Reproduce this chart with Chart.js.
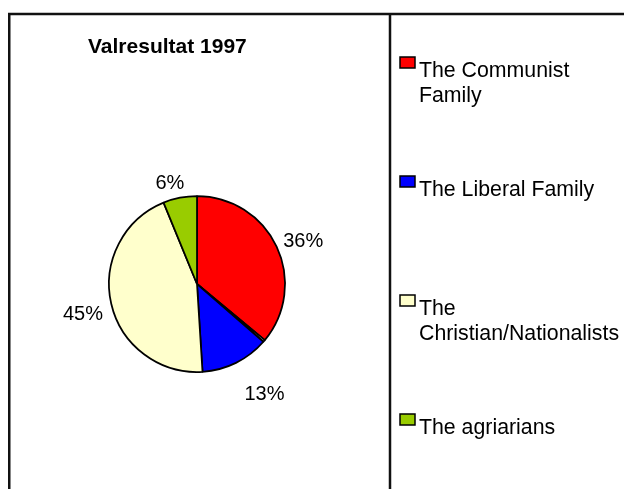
<!DOCTYPE html>
<html>
<head>
<meta charset="utf-8">
<script src="https://cdn.jsdelivr.net/npm/chart.js@4"></script>
<style>
  html, body { margin: 0; padding: 0; background: #fff; }
  #wrap { width: 624px; height: 489px; }
</style>
</head>
<body>
<div id="wrap"><canvas id="myChart" width="624" height="489"></canvas></div>
<script>
// data (the empty name is the thin unlabelled sliver)
const categories = ["The Communist Family", "", "The Liberal Family", "The Christian/Nationalists", "The agriarians"]
const shares = [36.0, 0.4, 12.6, 44.8, 6.2]
const pctLabels = ["36%", "", "13%", "45%", "6%"]
const colors = ["#ff0000", "#ffffff", "#0000ff", "#ffffcc", "#99cc00"]

// small per-label nudges so labels sit where Excel put them
const labelNudge = [[3, 6], [0, 0], [17, 8], [-3, 5], [-5, 11]]

const FONT = "'Liberation Sans', Arial, sans-serif"

// frame around the chart + divider before the legend
const framePlugin = {
  id: "frame",
  beforeDraw(chart) {
    const ctx = chart.ctx
    ctx.save()
    ctx.strokeStyle = "#111"
    ctx.lineWidth = 2.5
    ctx.beginPath()
    ctx.moveTo(8, 14)
    ctx.lineTo(624, 14)
    ctx.moveTo(9.25, 13)
    ctx.lineTo(9.25, 489)
    ctx.moveTo(390, 13)
    ctx.lineTo(390, 489)
    ctx.stroke()
    ctx.restore()
  },
}

// percentage labels outside the slices
const pctPlugin = {
  id: "pct",
  afterDatasetsDraw(chart) {
    const ctx = chart.ctx
    const arcs = chart.getDatasetMeta(0).data
    ctx.save()
    ctx.font = "20px " + FONT
    ctx.fillStyle = "#000"
    ctx.textAlign = "center"
    ctx.textBaseline = "middle"
    arcs.forEach(function (arc, i) {
      if (!pctLabels[i]) return
      const a = (arc.startAngle + arc.endAngle) / 2
      const d = arc.outerRadius + 26
      const x = arc.x + Math.cos(a) * d + labelNudge[i][0]
      const y = arc.y + Math.sin(a) * d + labelNudge[i][1]
      ctx.fillText(pctLabels[i], x, y)
    })
    ctx.restore()
  },
}

// legend in the right panel, text wrapped like the original
const sideLegend = {
  id: "sideLegend",
  afterDraw(chart) {
    const ctx = chart.ctx
    const names = chart.data.labels
    const fills = chart.data.datasets[0].backgroundColor
    const left = 400
    const textX = 419
    const maxW = 203
    const firstBase = 77
    const gap = 119
    const lineH = 25
    ctx.save()
    ctx.font = "21.3px " + FONT
    ctx.textBaseline = "alphabetic"
    ctx.textAlign = "left"
    let n = 0
    for (let i = 0; i < names.length; i++) {
      if (!names[i]) continue
      const base = firstBase + n * gap
      // colour box
      ctx.fillStyle = fills[i]
      ctx.fillRect(left, base - 20, 15, 11)
      ctx.strokeStyle = "#000"
      ctx.lineWidth = 1.5
      ctx.strokeRect(left, base - 20, 15, 11)
      // wrap words
      const words = names[i].split(" ")
      const lines = []
      let cur = ""
      words.forEach(function (w) {
        const test = cur ? cur + " " + w : w
        if (cur && ctx.measureText(test).width > maxW) {
          lines.push(cur)
          cur = w
        } else {
          cur = test
        }
      })
      lines.push(cur)
      ctx.fillStyle = "#000"
      lines.forEach(function (ln, k) {
        ctx.fillText(ln, textX, base + k * lineH)
      })
      n++
    }
    ctx.restore()
  },
}

const data = {
  labels: categories,
  datasets: [
    {
      data: shares,
      backgroundColor: colors,
      borderColor: "#000",
      borderWidth: 1.75,
      hoverOffset: 0,
    },
  ],
}

const config = {
  type: "pie",
  data: data,
  options: {
    responsive: false,
    animation: false,
    radius: 88,
    layout: { padding: { left: 88, right: 318, top: 10, bottom: 10 } },
    plugins: {
      legend: { display: false },
      tooltip: { enabled: false },
      title: {
        display: true,
        text: "Valresultat 1997",
        align: "start",
        color: "#000",
        font: { family: FONT, size: 21, weight: "bold", lineHeight: 1.2 },
        padding: { top: 24.4, bottom: 29.4 },
      },
    },
  },
  plugins: [framePlugin, pctPlugin, sideLegend],
}

const myChart = new Chart(document.getElementById("myChart"), config)
</script>
</body>
</html>
